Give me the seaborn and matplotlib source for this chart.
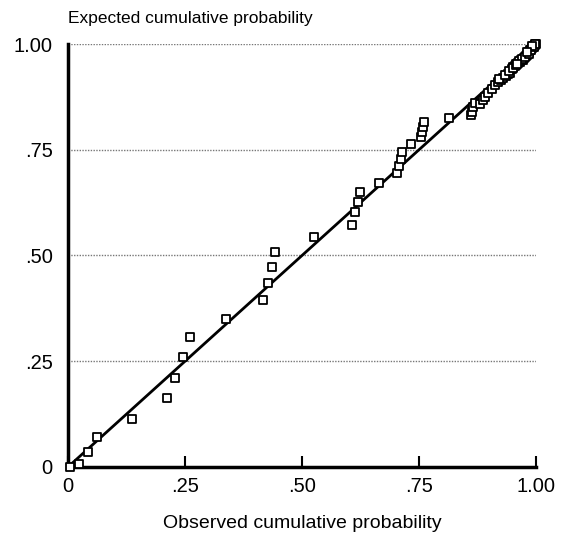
import numpy as np
import pandas as pd
import matplotlib
matplotlib.use("Agg")
import matplotlib.pyplot as plt
import seaborn as sns

# Observed vs expected cumulative probability
observed = [0.005, 0.024, 0.043, 0.061, 0.136, 0.212, 0.228, 0.245, 0.261,
            0.337, 0.416, 0.427, 0.435, 0.442, 0.525, 0.606, 0.613, 0.620,
            0.624, 0.665, 0.704, 0.707, 0.711, 0.714, 0.732, 0.754, 0.756,
            0.759, 0.761, 0.814, 0.861, 0.863, 0.866, 0.870, 0.880, 0.887,
            0.891, 0.898, 0.905, 0.912, 0.919, 0.925, 0.930, 0.935, 0.940,
            0.944, 0.948, 0.951, 0.955, 0.958, 0.962, 0.965, 0.968, 0.972,
            0.975, 0.978, 0.981, 0.983, 0.986, 0.988, 0.991, 0.993, 0.995,
            0.997, 0.999, 0.922, 0.933, 0.942, 0.950, 0.957, 0.964, 0.970,
            0.977, 0.985, 0.990, 0.996, 0.998, 0.992, 0.980, 0.960]
expected = [0.000, 0.008, 0.035, 0.071, 0.114, 0.163, 0.210, 0.259, 0.307,
            0.351, 0.395, 0.436, 0.472, 0.508, 0.544, 0.572, 0.602, 0.627,
            0.649, 0.672, 0.694, 0.712, 0.728, 0.744, 0.763, 0.781, 0.793,
            0.804, 0.815, 0.824, 0.832, 0.840, 0.852, 0.861, 0.858, 0.868,
            0.875, 0.883, 0.893, 0.903, 0.911, 0.915, 0.919, 0.925, 0.928,
            0.931, 0.940, 0.946, 0.948, 0.952, 0.955, 0.958, 0.962, 0.962,
            0.968, 0.972, 0.975, 0.979, 0.982, 0.986, 0.990, 0.992, 0.995,
            0.997, 1.000, 0.918, 0.927, 0.936, 0.943, 0.950, 0.960, 0.965,
            0.970, 0.977, 0.985, 0.993, 1.000, 0.996, 0.980, 0.953]

# reference diagonal
line_x = [0.0, 1.0]
line_y = [0.0, 1.0]

tick_vals = [0, 0.25, 0.50, 0.75, 1.00]
tick_labels = ["0", ".25", ".50", ".75", "1.00"]

df = pd.DataFrame({"observed": observed, "expected": expected})
line_df = pd.DataFrame({"x": line_x, "y": line_y})

sns.set_theme(style="white")
plt.rcParams["font.family"] = ["Liberation Sans", "DejaVu Sans"]

fig = plt.figure(figsize=(5.69, 5.42), dpi=100)
ax = fig.add_axes([0.1195, 0.1384, 0.8225, 0.7804])

# dotted horizontal grid
for v in tick_vals[1:]:
    ax.axhline(v, color="#777777", linestyle=(0, (1, 1)), linewidth=1.0, zorder=1)

sns.lineplot(data=line_df, x="x", y="y", color="black", linewidth=2.0, ax=ax, zorder=3)
sns.scatterplot(data=df, x="observed", y="expected", marker="s", s=28,
                facecolor="white", edgecolor="black", linewidth=1.3,
                ax=ax, zorder=4, clip_on=False)

ax.set_xlim(0, 1)
ax.set_ylim(0, 1)
ax.set_xticks(tick_vals)
ax.set_xticklabels(tick_labels)
ax.set_yticks(tick_vals)
ax.set_yticklabels(tick_labels)

ax.tick_params(axis="x", direction="in", length=8, width=1.5, color="black",
               pad=7, labelsize=14.5, labelcolor="black", bottom=True)
ax.tick_params(axis="y", length=0, pad=11, labelsize=14.5, labelcolor="black")

for side in ["top", "right"]:
    ax.spines[side].set_visible(False)
for side in ["left", "bottom"]:
    ax.spines[side].set_color("black")
    ax.spines[side].set_linewidth(2.5)

ax.set_xlabel("")
ax.set_ylabel("")
fig.text(0.1195, 0.965, "Expected cumulative probability", ha="left", va="center",
         fontsize=12.5, color="black")
fig.text(0.531, 0.035, "Observed cumulative probability", ha="center", va="center",
         fontsize=14, color="black")

fig.savefig("out.png", dpi=100)
